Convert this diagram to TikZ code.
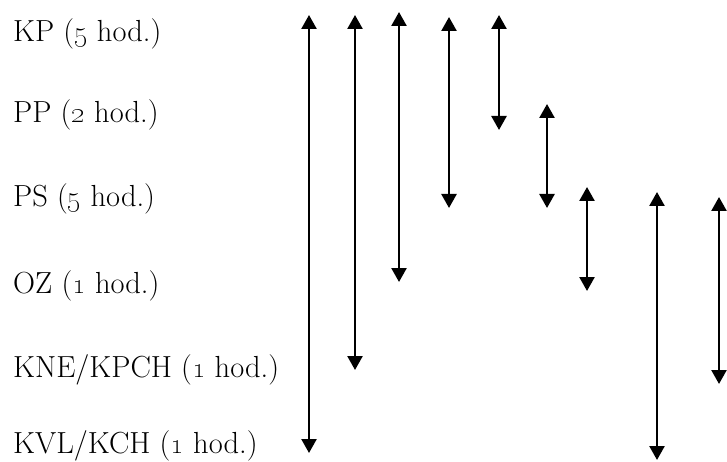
\documentclass[tikz,border=0pt]{standalone}
\usetikzlibrary{arrows.meta}
\tikzset{
  rowlabel/.style={anchor=base west, inner sep=0pt, font=\fontsize{30.5}{36}\selectfont},
  span/.style={{Triangle[width=15pt,length=14pt]}-{Triangle[width=15pt,length=14pt]}, line width=2.5pt}
}
\begin{document}
\begin{tikzpicture}[x=1pt,y=-1pt]
\useasboundingbox (0,0) rectangle (727,462);
% rows
\node[rowlabel] (kp) at (13,42) {KP (\oldstylenums{5} hod.)};
\node[rowlabel] (pp) at (13,123) {PP (\oldstylenums{2} hod.)};
\node[rowlabel] (ps) at (13,207) {PS (\oldstylenums{5} hod.)};
\node[rowlabel] (oz) at (13,293) {OZ (\oldstylenums{1} hod.)};
\node[rowlabel] (kne) at (13,377) {KNE/KPCH (\oldstylenums{1} hod.)};
\node[rowlabel] (kvl) at (13,453) {KVL/KCH (\oldstylenums{1} hod.)};
% spans
\coordinate (t1) at (309,15);  \coordinate (b1) at (309,453);
\coordinate (t2) at (355,15);  \coordinate (b2) at (355,370);
\coordinate (t3) at (399,12);  \coordinate (b3) at (399,282);
\coordinate (t4) at (449,17);  \coordinate (b4) at (449,208);
\coordinate (t5) at (499,15);  \coordinate (b5) at (499,130);
\coordinate (t6) at (547,104); \coordinate (b6) at (547,208);
\coordinate (t7) at (587,187); \coordinate (b7) at (587,291);
\coordinate (t8) at (657,192); \coordinate (b8) at (657,460);
\coordinate (t9) at (719,197); \coordinate (b9) at (719,384);
\draw[span] (t1)--(b1);
\draw[span] (t2)--(b2);
\draw[span] (t3)--(b3);
\draw[span] (t4)--(b4);
\draw[span] (t5)--(b5);
\draw[span] (t6)--(b6);
\draw[span] (t7)--(b7);
\draw[span] (t8)--(b8);
\draw[span] (t9)--(b9);
\end{tikzpicture}
\end{document}
